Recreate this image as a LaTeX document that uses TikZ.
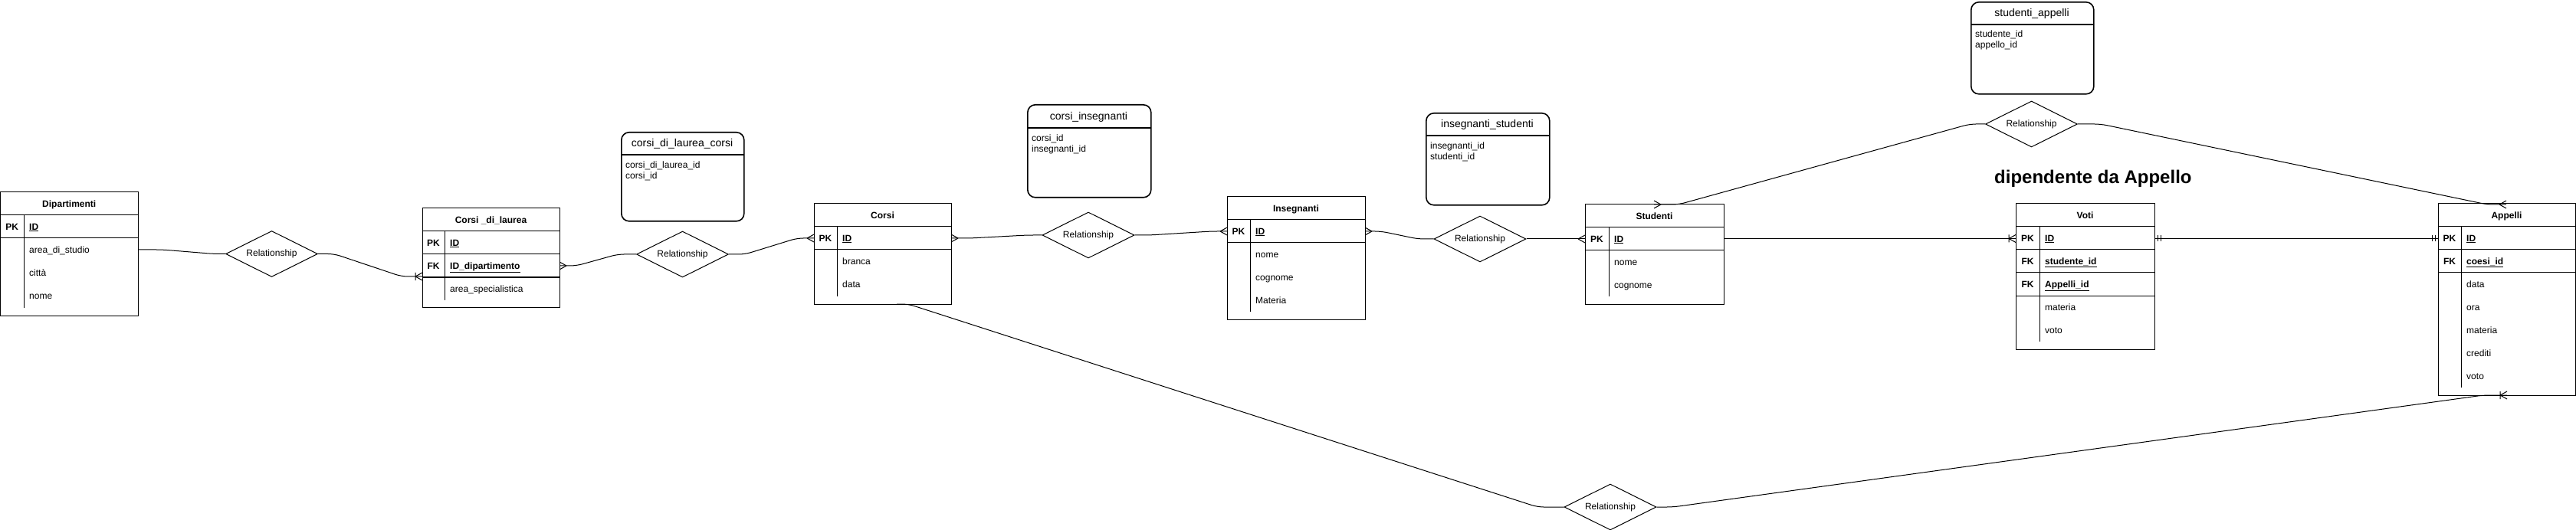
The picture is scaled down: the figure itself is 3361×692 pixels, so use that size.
\documentclass[tikz,border=0pt]{standalone}
\usepackage{fontspec}
\setmainfont{Liberation Sans}
\usetikzlibrary{shapes.geometric}
\newcommand\fsz[1]{\fontsize{#1}{#1}\selectfont}
\tikzset{
  tbl/.style={draw, line width=1pt, anchor=north west, inner sep=0pt, outer sep=0pt},
  ln/.style={line width=1pt},
  ttl/.style={font=\bfseries\fsz{12}, anchor=base, inner sep=0pt},
  key/.style={font=\bfseries\fsz{12}, anchor=base, inner sep=0pt},
  fld/.style={font=\fsz{12}, anchor=base west, inner sep=0pt},
  fldb/.style={font=\bfseries\fsz{12}, anchor=base west, inner sep=0pt},
  jt/.style={draw, rounded corners=10pt, line width=1.6pt, anchor=north west, inner sep=0pt},
  jttl/.style={font=\fsz{14}, anchor=base, inner sep=0pt},
  rel/.style={draw, diamond, aspect=2, minimum width=120pt, minimum height=60pt, inner sep=0pt, line width=1pt, font=\fsz{12}},
  conn/.style={line width=1pt, rounded corners=8pt},
  mk/.style={line width=1pt},
}
\newcommand\ermany[2]{\begin{scope}[shift={(#1)},xscale=#2]\draw[mk] (-9,0) -- (0,-5) (-9,0) -- (0,5);\end{scope}}
\newcommand\eronemany[2]{\begin{scope}[shift={(#1)},xscale=#2]\draw[mk] (-9,0) -- (0,-5) (-9,0) -- (0,5) (-9,-5) -- (-9,5);\end{scope}}
\newcommand\ermandone[2]{\begin{scope}[shift={(#1)},xscale=#2]\draw[mk] (-4,-4) -- (-4,4) (-8,-4) -- (-8,4);\end{scope}}
\begin{document}
\begin{tikzpicture}[x=1pt,y=-1pt]
\useasboundingbox (0,0) rectangle (3361,692);

% ---------- Dipartimenti
\node[tbl, minimum width=179.5pt, minimum height=161pt] (dip) at (0.5,251) {};
\draw[ln] (0.5,281) -- (180,281) (0.5,311) -- (180,311) (31,281) -- (31,402);
\node[ttl] at (90.25,270.2) {Dipartimenti};
\node[key] at (15.75,300.2) {PK};
\node[fldb] at (38,300.2) {\underline{ID}};
\node[fld] at (38,330.2) {area\_di\_studio};
\node[fld] at (38,360.2) {città};
\node[fld] at (38,390.2) {nome};

% ---------- Corsi_di_laurea
\node[tbl, minimum width=179pt, minimum height=129pt] (cdl) at (551,272) {};
\draw[ln] (551,302) -- (730,302) (551,332) -- (730,332) (551,362) -- (730,362) (580,302) -- (580,392);
\node[ttl] at (640.5,291.2) {Corsi \_di\_laurea};
\node[key] at (565.5,321.2) {PK};
\node[fldb] at (587,321.2) {\underline{ID}};
\node[key] at (565.5,351.2) {FK};
\node[fldb] at (587,351.2) {\underline{ID\_dipartimento}};
\node[fld] at (587,381.2) {area\_specialistica};

% ---------- Corsi
\node[tbl, minimum width=179pt, minimum height=131pt] (cor) at (1062,266) {};
\draw[ln] (1062,296) -- (1241,296) (1062,326) -- (1241,326) (1092,296) -- (1092,387);
\node[ttl] at (1151.5,285.2) {Corsi};
\node[key] at (1077,315.2) {PK};
\node[fldb] at (1099,315.2) {\underline{ID}};
\node[fld] at (1099,345.2) {branca};
\node[fld] at (1099,375.2) {data};

% ---------- Insegnanti
\node[tbl, minimum width=180pt, minimum height=160pt] (ins) at (1601,257) {};
\draw[ln] (1601,287) -- (1781,287) (1601,317) -- (1781,317) (1631,287) -- (1631,407);
\node[ttl] at (1691,276.2) {Insegnanti};
\node[key] at (1616,306.2) {PK};
\node[fldb] at (1638,306.2) {\underline{ID}};
\node[fld] at (1638,336.2) {nome};
\node[fld] at (1638,366.2) {cognome};
\node[fld] at (1638,396.2) {Materia};

% ---------- Studenti
\node[tbl, minimum width=181pt, minimum height=130pt] (stu) at (2068,267) {};
\draw[ln] (2068,297) -- (2249,297) (2068,327) -- (2249,327) (2099,297) -- (2099,387);
\node[ttl] at (2158.5,286.2) {Studenti};
\node[key] at (2083.5,316.2) {PK};
\node[fldb] at (2106,316.2) {\underline{ID}};
\node[fld] at (2106,346.2) {nome};
\node[fld] at (2106,376.2) {cognome};

% ---------- Voti
\node[tbl, minimum width=181pt, minimum height=190pt] (vot) at (2630,266) {};
\draw[ln] (2630,296) -- (2811,296) (2630,326) -- (2811,326) (2630,356) -- (2811,356) (2630,386) -- (2811,386) (2661,296) -- (2661,446);
\node[ttl] at (2720.5,285.2) {Voti};
\node[key] at (2645.5,315.2) {PK};
\node[fldb] at (2668,315.2) {\underline{ID}};
\node[key] at (2645.5,345.2) {FK};
\node[fldb] at (2668,345.2) {\underline{studente\_id}};
\node[key] at (2645.5,375.2) {FK};
\node[fldb] at (2668,375.2) {\underline{Appelli\_id}};
\node[fld] at (2668,405.2) {materia};
\node[fld] at (2668,435.2) {voto};

% ---------- Appelli
\node[tbl, minimum width=179pt, minimum height=250pt] (app) at (3181,266) {};
\draw[ln] (3181,296) -- (3360,296) (3181,326) -- (3360,326) (3181,356) -- (3360,356) (3211,296) -- (3211,506);
\node[ttl] at (3270.5,285.2) {Appelli};
\node[key] at (3196,315.2) {PK};
\node[fldb] at (3218,315.2) {\underline{ID}};
\node[key] at (3196,345.2) {FK};
\node[fldb] at (3218,345.2) {\underline{coesi\_id}};
\node[fld] at (3218,375.2) {data};
\node[fld] at (3218,405.2) {ora};
\node[fld] at (3218,435.2) {materia};
\node[fld] at (3218,465.2) {crediti};
\node[fld] at (3218,495.2) {voto};

% ---------- junction tables
\node[jt, minimum width=160pt, minimum height=116pt] (jA) at (810,172) {};
\draw[line width=1.6pt] (810,202) -- (970,202);
\node[jttl] at (890,192) {corsi\_di\_laurea\_corsi};
\node[fld] at (816,219.2) {corsi\_di\_laurea\_id};
\node[fld] at (816,233.6) {corsi\_id};

\node[jt, minimum width=161pt, minimum height=121pt] (jB) at (1340,136) {};
\draw[line width=1.6pt] (1340,167) -- (1501,167);
\node[jttl] at (1420.5,157) {corsi\_insegnanti};
\node[fld] at (1346,184.2) {corsi\_id};
\node[fld] at (1346,198.6) {insegnanti\_id};

\node[jt, minimum width=161pt, minimum height=120pt] (jC) at (1860,147) {};
\draw[line width=1.6pt] (1860,177) -- (2021,177);
\node[jttl] at (1940.5,167) {insegnanti\_studenti};
\node[fld] at (1866,194.2) {insegnanti\_id};
\node[fld] at (1866,208.6) {studenti\_id};

\node[jt, minimum width=160pt, minimum height=120pt] (jD) at (2571,2) {};
\draw[line width=1.6pt] (2571,32) -- (2731,32);
\node[jttl] at (2651,22) {studenti\_appelli};
\node[fld] at (2577,48.2) {studente\_id};
\node[fld] at (2577,62.6) {appello\_id};

% ---------- relationships
\node[rel] (rel1) at (354.5,331.5) {Relationship};
\node[rel] (rel2) at (890.5,332) {Relationship};
\node[rel] (rel3) at (1420,307) {Relationship};
\node[rel] (rel4) at (1931,312) {Relationship};
\node[rel] (rel5) at (2650.5,162) {Relationship};
\node[rel] (rel6) at (2101,662) {Relationship};

% ---------- attachment points
\coordinate (dipR) at (180,326);
\coordinate (cdlL) at (551,361);
\coordinate (cdlR) at (730,347);
\coordinate (corL) at (1062,311);
\coordinate (corR) at (1241,311);
\coordinate (corB) at (1170,397);
\coordinate (insL) at (1601,302);
\coordinate (insR) at (1781,302);
\coordinate (stuL) at (2068,312);
\coordinate (stuR) at (2249,311.5);
\coordinate (stuT) at (2158,267);
\coordinate (votL) at (2630,311.5);
\coordinate (votR) at (2811,311.5);
\coordinate (appL) at (3181,311.5);
\coordinate (appT) at (3270,267);
\coordinate (appB) at (3271,516);

% ---------- connectors
\draw[conn] (dipR) -- (212,326) -- (279,331.5) -- (rel1.west);
\draw[conn] (rel1.east) -- (436,331.5) -- (524,361) -- (cdlL);
\draw[conn] (cdlR) -- (752,347) -- (806,332) -- (rel2.west);
\draw[conn] (rel2.east) -- (972,332) -- (1040,311) -- (corL);
\draw[conn] (corR) -- (1266,311) -- (1340,307) -- (rel3.west);
\draw[conn] (rel3.east) -- (1500,307) -- (1580,302) -- (insL);
\draw[conn] (insR) -- (1802,302) -- (1850,312) -- (rel4.west);
\draw[conn] (rel4.east) -- (stuL);
\draw[conn] (stuR) -- (votL);
\draw[conn] (votR) -- (appL);
\draw[conn] (rel5.west) -- (2570,162) -- (2190,267) -- (stuT);
\draw[conn] (rel5.east) -- (2741,162) -- (3245,267) -- (appT);
\draw[conn] (corB) -- (1185,397) -- (2006,662) -- (rel6.west);
\draw[conn] (rel6.east) -- (2183,662) -- (3240,516) -- (appB);

% ---------- markers
\eronemany{cdlL}{1}
\ermany{cdlR}{-1}
\ermany{corL}{1}
\ermany{corR}{-1}
\ermany{insL}{1}
\ermany{insR}{-1}
\ermany{stuL}{1}
\ermany{stuT}{-1}
\eronemany{votL}{1}
\ermandone{votR}{-1}
\ermandone{appL}{1}
\ermany{appT}{1}
\eronemany{appB}{1}

% ---------- note
\node[font=\bfseries\fsz{24}, anchor=base west, inner sep=0pt] (note) at (2602,239.5) {dipendente da Appello};
\end{tikzpicture}
\end{document}
